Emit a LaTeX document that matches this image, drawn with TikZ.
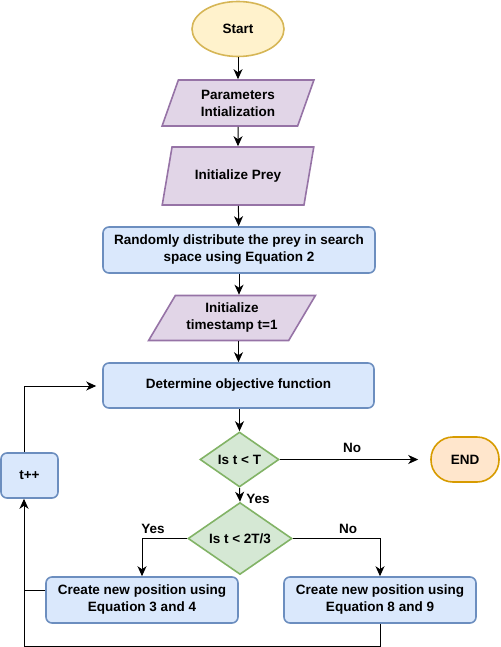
\documentclass[tikz,border=0pt]{standalone}
\usepackage{fontspec}
\setmainfont{Liberation Sans}
\usetikzlibrary{shapes.geometric,arrows.meta}

\definecolor{startfill}{HTML}{FFF2CC}\definecolor{startline}{HTML}{D6B656}
\definecolor{iofill}{HTML}{E1D5E7}\definecolor{ioline}{HTML}{9673A6}
\definecolor{procfill}{HTML}{DAE8FC}\definecolor{procline}{HTML}{6C8EBF}
\definecolor{decfill}{HTML}{D5E8D4}\definecolor{decline}{HTML}{82B366}
\definecolor{endfill}{HTML}{FFE6CC}\definecolor{endline}{HTML}{D79B00}

\begin{document}
\begin{tikzpicture}[x = 1pt, y = -1pt,
  every node/.style = {font = \bfseries\fontsize{13.5}{17}\selectfont, align = center},
  startnode/.style = {ellipse, draw = startline, fill = startfill, line width = 1.6pt, minimum width = 92pt, minimum height = 55pt},
  ionode/.style = {trapezium, trapezium stretches = true, draw = ioline, fill = iofill, line width = 1.6pt, inner sep = 0pt},
  procnode/.style = {rectangle, rounded corners = 6pt, draw = procline, fill = procfill, line width = 1.6pt, minimum height = 46pt, inner sep = 0pt},
  decnode/.style = {diamond, draw = decline, fill = decfill, line width = 1.6pt, inner sep = 0pt},
  endnode/.style = {rectangle, rounded corners = 22pt, draw = endline, fill = endfill, line width = 1.6pt, minimum width = 68pt, minimum height = 45pt},
  flow/.style = {-{Stealth[length = 10pt, width = 9pt, inset = 3pt]}, line width = 1pt},
  link/.style = {line width = 1pt}]

\useasboundingbox (0, 0) rectangle (500, 647);

% shapes
\node[startnode] (start) at (238, 29){Start};
\node[ionode, trapezium left angle = 69, trapezium right angle = 111, minimum width = 153pt, minimum height = 46pt] (par) at (238, 103){Parameters\\Intialization};
\node[ionode, trapezium left angle = 63, trapezium right angle = 117, minimum width = 153pt, minimum height = 58pt] (prey) at (238, 176){Initialize Prey};
\node[procnode, minimum width = 272pt] (rand) at (239, 250){Randomly distribute the prey in search\\space using Equation 2};
\node[ionode, trapezium left angle = 54, trapezium right angle = 126, minimum width = 167pt, minimum height = 45pt] (stamp) at (232, 318){Initialize\\timestamp t=1};
\node[procnode, minimum width = 271pt, minimum height = 45pt] (obj) at (238.5, 385.5){Determine objective function};
\node[decnode, minimum width = 79pt, minimum height = 55pt] (isT) at (239.5, 459.5){Is t < T};
\node[endnode] (stop) at (465, 459.5){END};
\node[decnode, minimum width = 104pt, minimum height = 57pt] (isTT) at (240, 538.5){Is t < 2T/3};
\node[procnode, minimum width = 192pt] (early) at (142, 600){Create new position using\\Equation 3 and 4};
\node[procnode, minimum width = 192pt] (late) at (380, 600){Create new position using\\Equation 8 and 9};
\node[procnode, minimum width = 57pt, minimum height = 45pt] (inc) at (29.5, 475.5){t++};

% loop corners
\coordinate (lowleft) at (24, 646);
\coordinate (upleft) at (24, 386);

% arrows
\draw[flow] (start) -- (par);
\draw[flow] (par) -- (prey);
\draw[flow] (prey) -- (rand);
\draw[flow] (rand.south) -- (rand.south |- stamp.north);
\draw[flow] (obj.north |- stamp.south) -- (obj.north);
\draw[flow] (obj.south -| isT.north) -- (isT.north);
\draw[flow, shorten > = 12pt] (isT.east) -- (stop.west);
\node (no1) at (352, 448){No};
\draw[flow] (isT.south) -- (isTT.north);
\node (yes1) at (258, 499){Yes};
\draw[flow] (isTT.west) -| (early.north);
\node (yes2) at (153, 529){Yes};
\draw[flow] (isTT.east) -| (late.north);
\node (no2) at (348, 529){No};
\draw[link] ([yshift = 10pt]early.west) -- ([yshift = 10pt]early.west -| lowleft);
\draw[flow] (late.south) |- (lowleft) -- (lowleft |- inc.south);
\draw[flow, shorten > = 6pt] (upleft |- inc.north) -- (upleft) -- (upleft -| obj.west);
\end{tikzpicture}
\end{document}
